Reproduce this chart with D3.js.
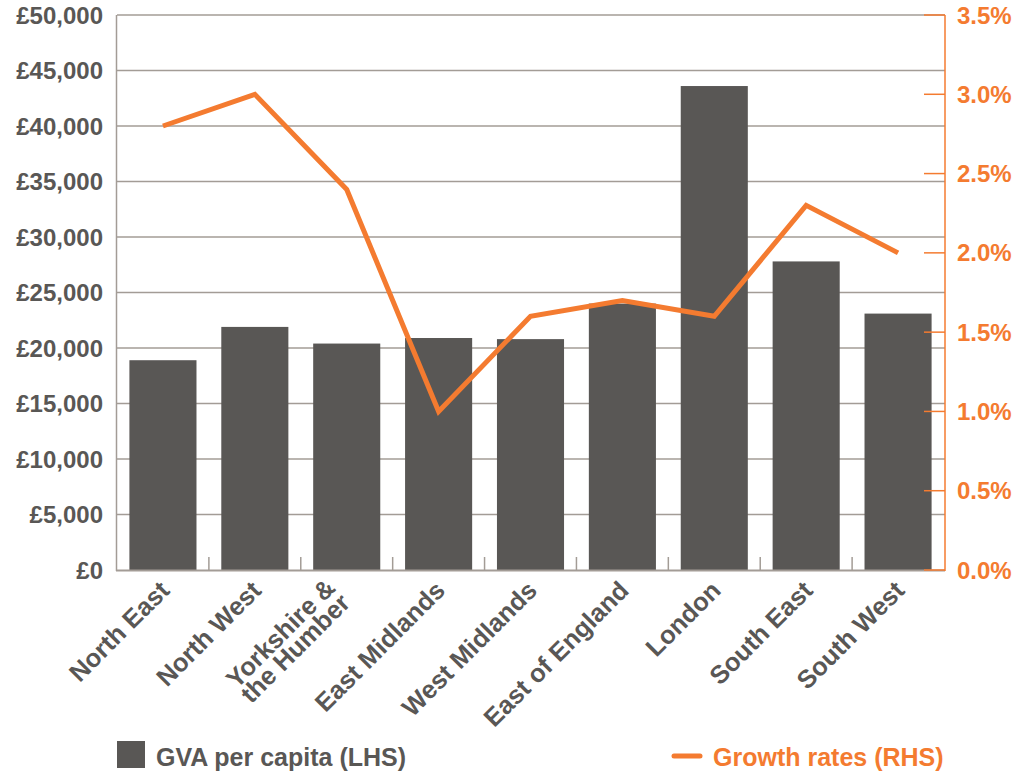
<!DOCTYPE html>
<html>
<head>
<meta charset="utf-8">
<script src="https://cdn.jsdelivr.net/npm/d3@7/dist/d3.min.js"></script>
<style>
  html, body { margin: 0; padding: 0; background: #fff; }
  svg { display: block; font-family: "Liberation Sans", Arial, Helvetica, sans-serif; font-weight: bold; }
</style>
</head>
<body>
<svg id="chart" width="1033" height="773"></svg>
<script>
// Regions (each entry may hold several lines for the axis label)
const regions = [
  ["North East"], ["North West"], ["Yorkshire &", "the Humber"], ["East Midlands"],
  ["West Midlands"], ["East of England"], ["London"], ["South East"], ["South West"]
];
// GVA per capita, £ (left axis)
const gvaPerCapita = [18900, 21900, 20400, 20900, 20800, 24000, 43600, 27800, 23100];
// Growth rates, % (right axis)
const growthRates = [2.8, 3.0, 2.4, 1.0, 1.6, 1.7, 1.6, 2.3, 2.0];
// Tick values
const gvaTicks = [0, 5000, 10000, 15000, 20000, 25000, 30000, 35000, 40000, 45000, 50000];
const growthTicks = [0, 0.5, 1.0, 1.5, 2.0, 2.5, 3.0, 3.5];

const GREY = "#595755";
const GRID = "#a39c96";
const ORANGE = "#f47b30";

const svg = d3.select("#chart");
const plotLeft = 117, plotRight = 945, plotTop = 15, plotBottom = 570;

const keys = regions.map(r => r.join(" "));
const x = d3.scaleBand().domain(keys).range([plotLeft, plotRight - 1]).paddingInner(0.27).paddingOuter(0.135);
const yL = d3.scaleLinear().domain([0, 50000]).range([plotBottom, plotTop]);
const yR = d3.scaleLinear().domain([0, 3.5]).range([plotBottom, plotTop]);

// Horizontal gridlines
svg.append("g").selectAll("line").data(gvaTicks.slice(1)).join("line")
  .attr("x1", plotLeft).attr("x2", plotRight)
  .attr("y1", d => yL(d)).attr("y2", d => yL(d))
  .attr("stroke", GRID).attr("stroke-width", 1.5);

// Left axis labels
const fmtGBP = d => "£" + d3.format(",")(d);
svg.append("g").selectAll("text").data(gvaTicks).join("text")
  .attr("x", 103).attr("y", d => yL(d)).attr("dy", "0.36em")
  .attr("text-anchor", "end").attr("font-size", 24).attr("fill", GREY)
  .text(fmtGBP);

// Bars
svg.append("g").selectAll("rect").data(gvaPerCapita).join("rect")
  .attr("x", (d, i) => x(keys[i])).attr("width", x.bandwidth())
  .attr("y", d => yL(d)).attr("height", d => yL(0) - yL(d))
  .attr("fill", GREY);

// Left axis line and bottom axis
svg.append("line").attr("x1", plotLeft - 0.5).attr("x2", plotLeft - 0.5).attr("y1", plotTop).attr("y2", plotBottom + 1)
  .attr("stroke", GRID).attr("stroke-width", 1.5);
svg.append("line").attr("x1", plotLeft - 1).attr("x2", plotRight).attr("y1", plotBottom + 0.5).attr("y2", plotBottom + 0.5)
  .attr("stroke", GRID).attr("stroke-width", 2);

// Category boundary ticks on the bottom axis
const step = x.step();
const boundaries = d3.range(1, keys.length).map(i => x(keys[i]) - step * x.paddingInner() / 2);
svg.append("g").selectAll("line").data(boundaries).join("line")
  .attr("x1", d => d).attr("x2", d => d)
  .attr("y1", plotBottom - 13).attr("y2", plotBottom)
  .attr("stroke", GRID).attr("stroke-width", 1.5);

// Right axis (growth rates)
svg.append("line").attr("x1", plotRight).attr("x2", plotRight).attr("y1", plotTop).attr("y2", plotBottom + 1)
  .attr("stroke", ORANGE).attr("stroke-width", 1.5);
svg.append("g").selectAll("line").data(growthTicks).join("line")
  .attr("x1", plotRight - 21).attr("x2", plotRight)
  .attr("y1", d => yR(d)).attr("y2", d => yR(d))
  .attr("stroke", ORANGE).attr("stroke-width", 1.5);
svg.append("g").selectAll("text").data(growthTicks).join("text")
  .attr("x", 957).attr("y", d => yR(d)).attr("dy", "0.36em")
  .attr("font-size", 24).attr("fill", ORANGE)
  .text(d => d.toFixed(1) + "%");

// Growth rate line
const line = d3.line()
  .x((d, i) => x(keys[i]) + x.bandwidth() / 2)
  .y(d => yR(d));
svg.append("path").datum(growthRates)
  .attr("d", line).attr("fill", "none")
  .attr("stroke", ORANGE).attr("stroke-width", 5).attr("stroke-linejoin", "miter");

// Category labels, rotated; multi-line labels sit slightly further back along the baseline
const labels = svg.append("g").selectAll("g").data(regions).join("g")
  .attr("transform", (d, i) => `translate(${x(keys[i]) + x.bandwidth() / 2 + 8},${plotBottom + 22}) rotate(-45)`);
labels.each(function(lines) {
  const t = d3.select(this).append("text")
    .attr("text-anchor", "end").attr("font-size", 25.5).attr("fill", GREY);
  const n = lines.length;
  const back = n > 1 ? -11 : 0;
  lines.forEach((s, k) => {
    t.append("tspan").attr("x", back).attr("y", (k - (n - 1) / 2) * 21 - (n > 1 ? 4 : 0)).text(s);
  });
});

// Legend
svg.append("rect").attr("x", 117).attr("y", 741).attr("width", 28).attr("height", 27).attr("fill", GREY);
svg.append("text").attr("x", 156).attr("y", 766).attr("font-size", 25).attr("fill", GREY)
  .text("GVA per capita (LHS)");
svg.append("line").attr("x1", 674).attr("x2", 700).attr("y1", 756).attr("y2", 756)
  .attr("stroke", ORANGE).attr("stroke-width", 5).attr("stroke-linecap", "round");
svg.append("text").attr("x", 713).attr("y", 766).attr("font-size", 25).attr("fill", ORANGE)
  .text("Growth rates (RHS)");
</script>
</body>
</html>
